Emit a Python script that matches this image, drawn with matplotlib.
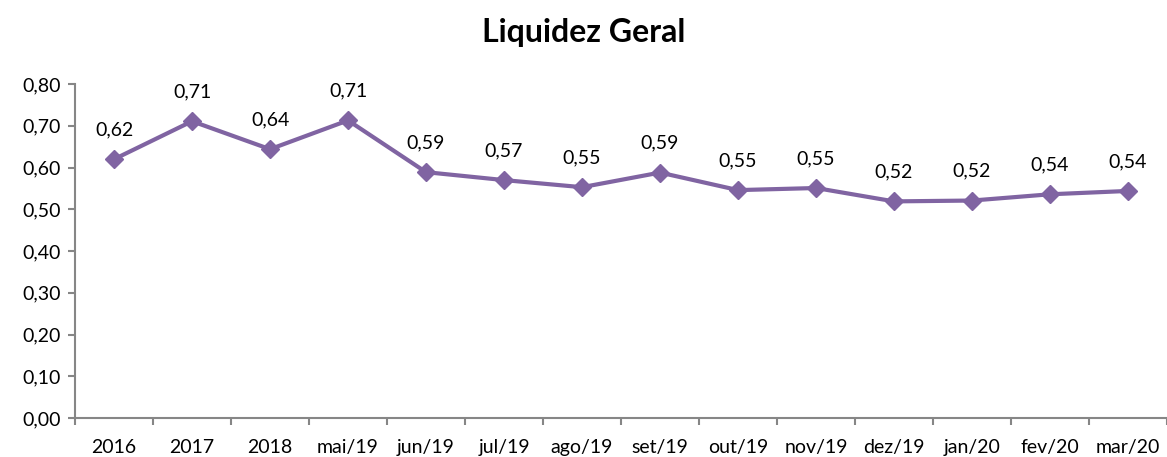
import numpy as np
import matplotlib.pyplot as plt

categories = ['2016', '2017', '2018', 'mai/19', 'jun/19', 'jul/19', 'ago/19', 'set/19',
              'out/19', 'nov/19', 'dez/19', 'jan/20', 'fev/20', 'mar/20']
values = [0.620, 0.711, 0.644, 0.713, 0.589, 0.570, 0.553, 0.588,
          0.546, 0.551, 0.519, 0.521, 0.536, 0.544]
yticks = [0.0, 0.1, 0.2, 0.3, 0.4, 0.5, 0.6, 0.7, 0.8]

plt.rcParams['font.family'] = ['Lato', 'DejaVu Sans']
color = '#8064A2'
grey = '#868686'


def br(v):
    return f"{v:.2f}".replace('.', ',')


fig = plt.figure(figsize=(11.67, 4.57), dpi=100)
ax = fig.add_axes([0.0643, 0.0853, 0.9357, 0.7307])

x = np.arange(len(categories))
ax.plot(x, values, color=color, linewidth=3, marker='D', markersize=9,
        markeredgecolor=color, markerfacecolor=color, clip_on=False)

for xi, v in zip(x, values):
    ax.annotate(br(v), (xi, v), xytext=(0, 15), textcoords='offset points',
                ha='center', va='bottom', fontsize=14, color='black')

ax.set_xlim(-0.5, len(categories) - 0.5)
ax.set_ylim(0, 0.8)
ax.set_yticks(yticks)
ax.set_yticklabels([br(t) for t in yticks], fontsize=14)

# ticks at category boundaries, labels at centres
ax.set_xticks(np.arange(len(categories) + 1) - 0.5)
ax.set_xticklabels([])
ax.set_xticks(x, minor=True)
ax.set_xticklabels(categories, minor=True, fontsize=14)
ax.tick_params(axis='x', which='minor', length=0, pad=15)
ax.tick_params(axis='x', which='major', length=5, color=grey, width=1.5)
ax.tick_params(axis='y', length=5, color=grey, width=1.5, pad=5)

for s in ['top', 'right']:
    ax.spines[s].set_visible(False)
for s in ['left', 'bottom']:
    ax.spines[s].set_color(grey)
    ax.spines[s].set_linewidth(1.5)

fig.suptitle('Liquidez Geral', fontsize=23, fontweight='bold', y=0.96)

fig.savefig('out.png', dpi=100)
